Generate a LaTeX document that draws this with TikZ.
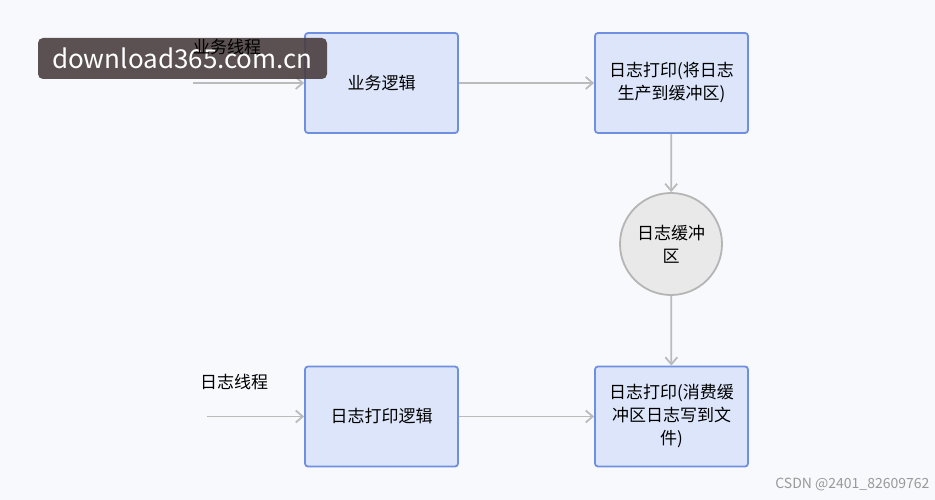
\documentclass[tikz,border=0pt]{standalone}
\usepackage{fontspec}
\newfontfamily\cjk{Noto Sans CJK SC}
\usetikzlibrary{arrows.meta}
\definecolor{bg}{HTML}{F8F9FD}
\definecolor{bfill}{HTML}{DCE5FA}
\definecolor{bline}{HTML}{6F90E0}
\definecolor{cfill}{HTML}{E9E9E9}
\definecolor{cline}{HTML}{B5B5B5}
\definecolor{arr}{HTML}{BBBBBB}
\definecolor{wmc}{HTML}{4A3E40}
\begin{document}
\begin{tikzpicture}[x=1pt,y=-1pt,
  box/.style={draw=bline,fill=bfill,line width=1.8pt,rounded corners=3pt,minimum width=153pt,minimum height=100pt,align=center,font=\cjk\fontsize{17}{23}\selectfont,text width=140pt},
  circ/.style={circle,draw=cline,fill=cfill,line width=1.8pt,minimum size=102pt,align=center,font=\cjk\fontsize{17}{23}\selectfont,text width=80pt},
  lab/.style={font=\cjk\fontsize{17}{20}\selectfont},
  con/.style={draw=arr,line width=1.8pt,-{Straight Barb[length=7pt,width=12pt]}}]
\fill[bg] (0,0) rectangle (935,500);
\node[box] (b1) at (381.5,83) {业务逻辑};
\node[box] (b2) at (671.5,83) {日志打印(将日志\\生产到缓冲区)};
\node[circ] (c) at (671,244) {日志缓冲\\区};
\node[box] (b3) at (381.5,416.5) {日志打印逻辑};
\node[box] (b4) at (671.5,416.5) {日志打印(消费缓\\冲区日志写到文\\件)};
\coordinate (s1) at (193,83);
\coordinate (s2) at (207,416.5);
\node[lab] (l2) at (234,382) {日志线程};
\draw[con] (s1) -- (b1);
\draw[con] (b1) -- (b2);
\draw[con] (b2) -- (c);
\draw[con] (c) -- (b4);
\draw[con] (s2) -- (b3);
\draw[con] (b3) -- (b4);
\node[fill=wmc,fill opacity=0.9,text opacity=1,text=white,rounded corners=5pt,minimum width=289pt,minimum height=41pt,font=\fontsize{26}{30}\selectfont\cjk] (wm) at (182.5,58.5) {download365.com.cn};
\node[lab] (l1) at (227,47) {业务线程};
\node[font=\cjk\fontsize{14}{16}\selectfont,text=black!40,anchor=east] (cs) at (933,484) {CSDN @2401\_82609762};
\end{tikzpicture}
\end{document}
